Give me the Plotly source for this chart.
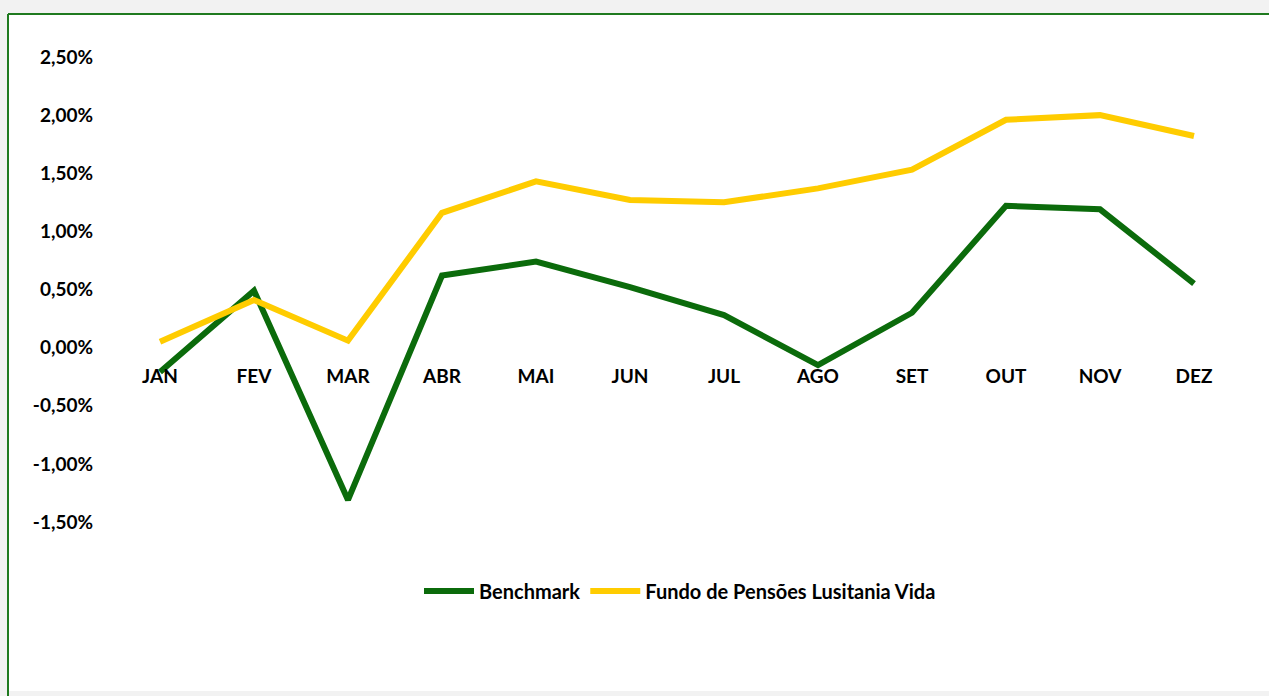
import plotly.graph_objects as go

months = ["JAN", "FEV", "MAR", "ABR", "MAI", "JUN", "JUL", "AGO", "SET", "OUT", "NOV", "DEZ"]
benchmark_pct = [-0.21, 0.49, -1.31, 0.62, 0.74, 0.52, 0.28, -0.15, 0.30, 1.22, 1.19, 0.55]
fundo_pct = [0.05, 0.41, 0.06, 1.16, 1.43, 1.27, 1.25, 1.37, 1.53, 1.96, 2.00, 1.82]
y_tick_vals = [-1.5, -1.0, -0.5, 0.0, 0.5, 1.0, 1.5, 2.0, 2.5]
y_tick_text = ["-1,50%", "-1,00%", "-0,50%", "0,00%", "0,50%", "1,00%", "1,50%", "2,00%", "2,50%"]

FONT = "Lato"
GREEN = "#0b6b0b"
GOLD = "#ffcc00"

fig = go.Figure()
fig.add_trace(go.Scatter(x=months, y=benchmark_pct, mode="lines", name="Benchmark",
                         line=dict(color=GREEN, width=6)))
fig.add_trace(go.Scatter(x=months, y=fundo_pct, mode="lines", name="Fundo de Pensões Lusitania Vida",
                         line=dict(color=GOLD, width=6)))

W, H = 1269, 696
L, R, T, B = 113, 28, 57, 174
pw, ph = W - L - R, H - T - B

def px(x):
    return (x - L) / pw

def py(y):
    return (H - B - y) / ph

shapes = [
    dict(type="rect", xref="paper", yref="paper", x0=px(8), x1=px(1290), y0=py(14), y1=py(691),
         fillcolor="white", line=dict(width=0), layer="below"),
    dict(type="line", xref="paper", yref="paper", x0=px(8), x1=px(1290), y0=py(14), y1=py(14),
         line=dict(color="#1f7a1f", width=2), layer="below"),
    dict(type="line", xref="paper", yref="paper", x0=px(8), x1=px(8), y0=py(14), y1=py(700),
         line=dict(color="#1f7a1f", width=2), layer="below"),
]

ymin, ymax = -1.5, 2.5
fig.update_layout(
    width=W, height=H,
    margin=dict(l=L, r=R, t=T, b=B, pad=0),
    paper_bgcolor="#f2f2f2",
    plot_bgcolor="rgba(0,0,0,0)",
    font=dict(family=FONT, size=19, color="black"),
    shapes=shapes,
    showlegend=True,
    legend=dict(orientation="h", x=px(680), xanchor="center", y=py(591), yanchor="middle",
                font=dict(family=FONT, size=20, color="black", weight="bold"),
                itemwidth=50, bgcolor="rgba(0,0,0,0)", traceorder="normal"),
    xaxis=dict(type="category", range=[-0.5, 11.5], showgrid=False, zeroline=False, showline=False,
               ticks="", anchor="free", position=(0 - ymin) / (ymax - ymin),
               ticklabelstandoff=15,
               tickfont=dict(family=FONT, size=19, color="black", weight="bold")),
    yaxis=dict(range=[ymin, ymax], showgrid=False, zeroline=False, showline=False, ticks="",
               tickmode="array", tickvals=y_tick_vals, ticktext=y_tick_text,
               ticklabelstandoff=19,
               tickfont=dict(family=FONT, size=19, color="black", weight="bold")),
)

fig.write_html("out.html")
